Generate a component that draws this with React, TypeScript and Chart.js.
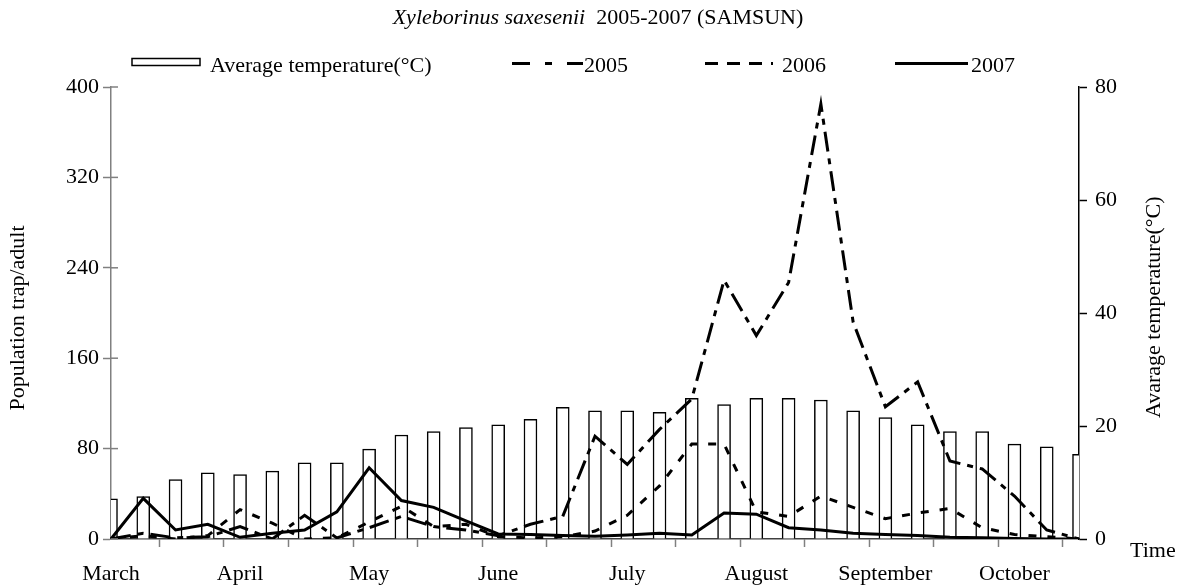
import React, { useEffect, useRef } from 'react';
import { Chart, registerables } from 'chart.js';

Chart.register(...registerables);

const FONT = "'Liberation Serif', 'Times New Roman', serif";

const categories = [
  'March', '', '', '', 'April', '', '', '', 'May', '', '', '', 'June', '', '', '',
  'July', '', '', '', 'August', '', '', '', 'September', '', '', '', 'October', '', '',
];

const temperature = [
  7.1, 7.5, 10.5, 11.7, 11.4, 12.0, 13.5, 13.5, 15.9, 18.4, 19.0, 19.7, 20.2, 21.2, 23.3, 22.7,
  22.7, 22.4, 24.9, 23.8, 24.9, 24.9, 24.6, 22.7, 21.5, 20.2, 19.0, 19.0, 16.8, 16.3, 15.0,
];

const pop2005 = [
  0, 5, 1, 2, 11, 0, 21, 1, 10, 20, 11, 8, 3, 13, 20, 91,
  66, 97, 124, 229, 180, 227, 385, 192, 117, 139, 69, 62, 38, 8, 0,
];

const pop2006 = [
  0, 3, 0, 3, 26, 14, 0, 1, 15, 29, 11, 13, 2, 1, 2, 7,
  21, 47, 84, 84, 24, 20, 38, 28, 18, 23, 27, 10, 4, 2, 0,
];

const pop2007 = [
  0, 36, 8, 13, 1.5, 5, 8, 24, 63, 34, 28, 16, 4.5, 4, 3, 2.5,
  3.5, 5, 3.5, 23, 22, 10, 8, 5, 4, 3, 1.5, 1, 0.5, 0, 0,
];

const titleItalic = 'Xyleborinus saxesenii';
const titleRest = '  2005-2007 (SAMSUN)';
const leftAxisTitle = 'Population trap/adult';
const rightAxisTitle = 'Avarage temperature(°C)';
const xAxisTitle = 'Time';

const overlay = {
  id: 'overlay',
  afterDraw(chart: any) {
    const ctx = chart.ctx as CanvasRenderingContext2D;
    ctx.save();
    ctx.fillStyle = '#000';
    ctx.strokeStyle = '#000';
    ctx.textBaseline = 'alphabetic';
    ctx.textAlign = 'left';

    // Title
    ctx.font = `italic 22px ${FONT}`;
    const w1 = ctx.measureText(titleItalic).width;
    ctx.font = `22px ${FONT}`;
    const w2 = ctx.measureText(titleRest).width;
    let tx = 598 - (w1 + w2) / 2;
    ctx.font = `italic 22px ${FONT}`;
    ctx.fillText(titleItalic, tx, 24);
    ctx.font = `22px ${FONT}`;
    ctx.fillText(titleRest, tx + w1, 24);

    // Legend
    const ds = chart.data.datasets;
    const legendY = 63.5;
    const baseline = 71.5;
    // bar item
    ctx.lineWidth = 1.5;
    ctx.setLineDash([]);
    ctx.fillStyle = '#fff';
    ctx.fillRect(132, 58.5, 68, 7);
    ctx.strokeRect(132, 58.5, 68, 7);
    ctx.fillStyle = '#000';
    ctx.fillText(ds[0].label, 210, baseline);
    const lineItems = [
      { d: ds[1], x0: 512, x1: 583, dash: [18, 15, 7, 15], tx: 584 },
      { d: ds[2], x0: 705, x1: 773, dash: [13, 9], tx: 782 },
      { d: ds[3], x0: 895, x1: 968, dash: [], tx: 971 },
    ];
    for (const it of lineItems) {
      ctx.lineWidth = 3;
      ctx.setLineDash(it.dash);
      ctx.beginPath();
      ctx.moveTo(it.x0, legendY);
      ctx.lineTo(it.x1, legendY);
      ctx.stroke();
      ctx.setLineDash([]);
      ctx.fillText(it.d.label, it.tx, baseline);
    }

    // Axis titles
    ctx.font = `22px ${FONT}`;
    ctx.textAlign = 'center';
    ctx.textBaseline = 'middle';
    ctx.save();
    ctx.translate(18, 318);
    ctx.rotate(-Math.PI / 2);
    ctx.fillText(leftAxisTitle, 0, 0);
    ctx.restore();
    const rw = ctx.measureText(rightAxisTitle).width;
    ctx.save();
    ctx.translate(1154, 418 - rw / 2);
    ctx.rotate(-Math.PI / 2);
    ctx.fillText(rightAxisTitle, 0, 0);
    ctx.restore();
    ctx.textAlign = 'left';
    ctx.textBaseline = 'alphabetic';
    ctx.fillText(xAxisTitle, 1130, 557);

    // inner tick marks on the left axis
    const ys = chart.scales.y;
    ctx.strokeStyle = '#808080';
    ctx.lineWidth = 1.5;
    for (const t of ys.ticks) {
      const py = ys.getPixelForValue(t.value);
      ctx.beginPath();
      ctx.moveTo(ys.right, py);
      ctx.lineTo(ys.right + 7, py);
      ctx.stroke();
    }
    ctx.restore();
  },
};

export default function App() {
  const ref = useRef<HTMLCanvasElement>(null);
  useEffect(() => {
    const chart = new Chart(ref.current as HTMLCanvasElement, {
      type: 'bar',
      data: {
        labels: categories,
        datasets: [
          {
            type: 'bar',
            label: 'Average temperature(°C)',
            data: temperature,
            yAxisID: 'y1',
            backgroundColor: '#ffffff',
            borderColor: '#000000',
            borderWidth: 1.5,
            barThickness: 13,
            order: 10,
            clip: { left: 0, right: 0, top: false, bottom: false },
          } as any,
          {
            type: 'line',
            label: '2005',
            data: pop2005,
            yAxisID: 'y',
            borderColor: '#000000',
            borderWidth: 3,
            borderDash: [20, 7, 6, 7],
            pointRadius: 0,
            tension: 0,
            fill: false,
            order: 3,
          } as any,
          {
            type: 'line',
            label: '2006',
            data: pop2006,
            yAxisID: 'y',
            borderColor: '#000000',
            borderWidth: 3,
            borderDash: [8, 11],
            pointRadius: 0,
            tension: 0,
            fill: false,
            order: 2,
          } as any,
          {
            type: 'line',
            label: '2007',
            data: pop2007,
            yAxisID: 'y',
            borderColor: '#000000',
            borderWidth: 3,
            pointRadius: 0,
            tension: 0,
            fill: false,
            order: 1,
          } as any,
        ],
      },
      options: {
        animation: false,
        responsive: true,
        maintainAspectRatio: false,
        layout: { padding: { top: 87, left: 0, right: 0, bottom: 0 } },
        plugins: {
          legend: { display: false },
          title: { display: false },
          tooltip: { enabled: false },
        },
        scales: {
          x: {
            type: 'category',
            offset: false,
            grid: {
              display: true,
              drawOnChartArea: false,
              drawTicks: true,
              tickLength: 8,
              tickWidth: 1.5,
              tickColor: (c: any) => (c.index % 2 === 0 ? '#808080' : 'rgba(0,0,0,0)'),
            },
            border: { display: true, color: '#404040', width: 1.5 },
            ticks: {
              autoSkip: false,
              maxRotation: 0,
              minRotation: 0,
              padding: 14,
              color: '#000',
              font: { family: FONT, size: 22 },
            },
            afterFit: (s: any) => {
              s.height = 47;
            },
          },
          y: {
            position: 'left',
            min: 0,
            max: 400,
            ticks: { stepSize: 80, padding: 4, color: '#000', font: { family: FONT, size: 22 } },
            grid: { drawOnChartArea: false, tickLength: 8, tickWidth: 1.5, tickColor: '#808080' },
            border: { display: true, color: '#808080', width: 1.5 },
            afterFit: (s: any) => {
              s.width = 111;
            },
          },
          y1: {
            position: 'right',
            min: 0,
            max: 80,
            ticks: { stepSize: 20, padding: 8, color: '#000', font: { family: FONT, size: 22 } },
            grid: { drawOnChartArea: false, tickLength: 8, tickWidth: 1.5, tickColor: '#000' },
            border: { display: true, color: '#000', width: 1.5 },
            afterFit: (s: any) => {
              s.width = 102;
            },
          },
        },
      } as any,
      plugins: [overlay],
    });
    return () => chart.destroy();
  }, []);
  return (
    <div style={{ position: 'fixed', left: 0, top: 0, width: 1181, height: 586, background: '#fff' }}>
      <canvas ref={ref} />
    </div>
  );
}
